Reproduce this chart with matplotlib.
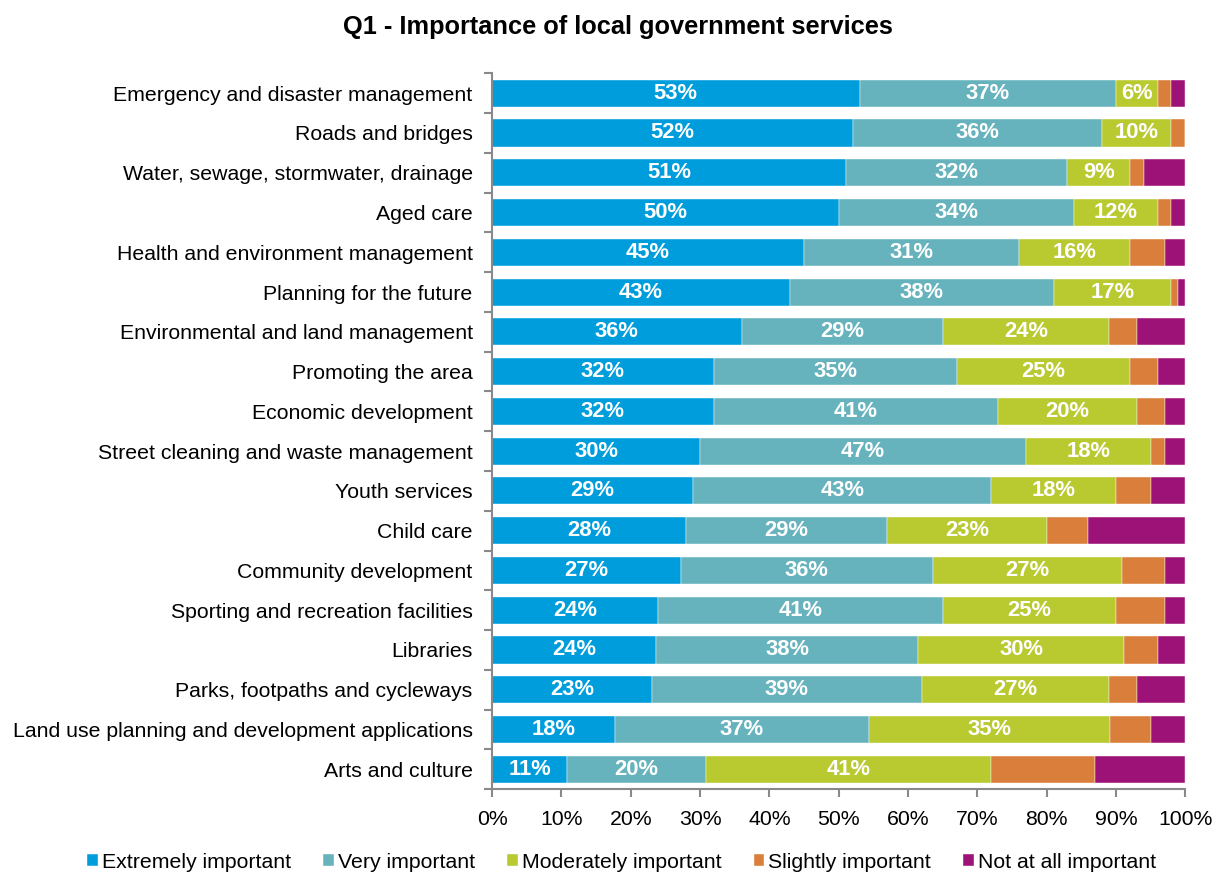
import matplotlib.pyplot as plt
import numpy as np
from matplotlib.ticker import MultipleLocator, FixedLocator, PercentFormatter

plt.rcParams['font.family'] = ['Liberation Sans', 'DejaVu Sans']

# survey results, percent of respondents
services = ['Emergency and disaster management',
            'Roads and bridges',
            'Water, sewage, stormwater, drainage',
            'Aged care',
            'Health and environment management',
            'Planning for the future',
            'Environmental and land management',
            'Promoting the area',
            'Economic development',
            'Street cleaning and waste management',
            'Youth services',
            'Child care',
            'Community development',
            'Sporting and recreation facilities',
            'Libraries',
            'Parks, footpaths and cycleways',
            'Land use planning and development applications',
            'Arts and culture']

extremely = [53, 52, 51, 50, 45, 43, 36, 32, 32, 30, 29, 28, 27.2, 24, 23.7, 23, 17.7, 10.8]
very = [37, 36, 32, 34, 31, 38, 29, 35, 41, 47, 43, 29, 36.4, 41, 37.8, 39, 36.7, 20.1]
moderately = [6, 10, 9, 12, 16, 17, 24, 25, 20, 18, 18, 23, 27.3, 25, 29.6, 27, 34.7, 41.1]
slightly = [2, 2, 2, 2, 5, 1, 4, 4, 4, 2, 5, 6, 6.1, 7, 5.0, 4, 5.9, 15]
not_at_all = [2, 0, 6, 2, 3, 1, 7, 4, 3, 3, 5, 14, 3.0, 3, 3.9, 7, 5.0, 13]

series = ['Extremely important', 'Very important', 'Moderately important',
          'Slightly important', 'Not at all important']
colors = ['#009ddc', '#66b3bd', '#b9c930', '#d97f3b', '#9c1277']

fig = plt.figure(figsize=(12.12, 8.73), dpi=100)
ax = fig.add_axes([0.406, 0.096, 0.572, 0.820])

y = np.arange(len(services))
left = np.zeros(len(services))
for name, vals, col, k in zip(series, [extremely, very, moderately, slightly, not_at_all],
                              colors, range(5)):
    vals = np.array(vals, dtype=float)
    bars = ax.barh(y, vals, left=left, height=0.68, color=col, label=name,
                   edgecolor='white', linewidth=0.3)
    # only the three largest categories carry value labels
    if k < 3:
        labels = ['%d%%' % round(v) if v >= 5 else '' for v in vals]
        ax.bar_label(bars, labels=labels, label_type='center', color='white',
                     fontsize=15.8, fontweight='bold')
    left += vals

ax.set_xlim(0, 100)
ax.set_ylim(len(services) - 0.5, -0.5)
ax.xaxis.set_major_locator(MultipleLocator(10))
ax.xaxis.set_major_formatter(PercentFormatter(decimals=0))
ax.set_yticks(y)
ax.set_yticklabels(services)
ax.yaxis.set_minor_locator(FixedLocator(np.arange(-0.5, len(services), 1)))
ax.tick_params(axis='y', which='major', length=0, pad=14, labelsize=15.3)
ax.tick_params(axis='y', which='minor', length=6, width=1.5, color='#898989')
ax.tick_params(axis='x', length=6, width=1.5, color='#898989', labelsize=15.3, pad=9)

for side in ['top', 'right']:
    ax.spines[side].set_visible(False)
for side in ['left', 'bottom']:
    ax.spines[side].set_color('#898989')
    ax.spines[side].set_linewidth(1.5)

fig.text(0.51, 0.969, 'Q1 - Importance of local government services', fontsize=18.3,
         fontweight='bold', ha='center', va='center')

fig.legend(loc='center', bbox_to_anchor=(0.513, 0.0126), ncol=5, frameon=False,
           fontsize=15.3, handlelength=0.5, handleheight=0.5, handletextpad=0.2,
           columnspacing=1.5, borderpad=0, borderaxespad=0)

plt.savefig('out.png', dpi=100)
